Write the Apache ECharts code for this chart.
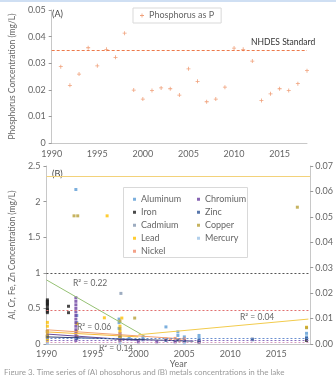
<!DOCTYPE html>
<html>
<head>
<meta charset="utf-8">
<script src="https://cdn.jsdelivr.net/npm/echarts@6/dist/echarts.min.js"></script>
<style>
  html, body { margin: 0; padding: 0; background: #fff; }
  #chart { width: 336px; height: 375px; }
</style>
</head>
<body>
<div id="chart"></div>
<script>
// (A) phosphorus, one value per year
const pYears = [1991, 1992, 1993, 1994, 1995, 1996, 1997, 1998, 1999, 2000, 2001, 2002, 2003, 2004,
  2005, 2006, 2007, 2008, 2009, 2010, 2011, 2012, 2013, 2014, 2015, 2016, 2017, 2018];
const phosphorus = [0.0287, 0.0217, 0.0259, 0.0358, 0.029, 0.0352, 0.0322, 0.0413, 0.0199, 0.0165,
  0.0197, 0.0207, 0.0204, 0.018, 0.0279, 0.0232, 0.0155, 0.0165, 0.021, 0.0357, 0.0352, 0.0308,
  0.016, 0.0185, 0.0204, 0.0197, 0.0223, 0.0272];
const nhdesStandard = 0.035;

// (B) metals, [year, mg/L]; Al Cr Fe Zn on left axis, the rest on right axis
const aluminum = [[1993.2, 2.17], [1990.1, 0.18], [1990.1, 0.12], [1993.3, 0.4], [1993.3, 0.3],
  [1997.9, 0.35], [1997.9, 0.3], [1997.9, 0.22], [1998, 0.15], [1999, 0.08], [2000.5, 0.1],
  [2003, 0.24], [2004.3, 0.17], [2004.3, 0.12], [2005, 0.1], [2006.6, 0.12], [2006.6, 0.08],
  [2018.3, 0.15], [2018.3, 0.1]];
const iron = [[1990.1, 0.62], [1990.1, 0.6], [1990.1, 0.58], [1990.1, 0.56], [1990.1, 0.54],
  [1990.1, 0.5], [1990.1, 0.48], [1990.1, 0.46], [1990.1, 0.44], [1992.4, 0.53], [1992.4, 0.44],
  [1993.3, 0.1], [1998, 0.1], [2006.6, 0.03], [2018.3, 0.05]];
const chromium = [[1993.2, 0.65], [1993.2, 0.6], [1993.2, 0.55], [1993.2, 0.5], [1993.2, 0.45],
  [1993.2, 0.4], [1993.2, 0.35], [1993.2, 0.3], [1993.2, 0.25], [1993.2, 0.2], [1993.2, 0.15],
  [1993.2, 0.1], [1993.2, 0.05], [1998, 0.05], [2000, 0.03], [2002, 0.03], [2004, 0.03],
  [2005, 0.04], [2006.6, 0.03]];
const zinc = [[1990.1, 0.1], [1993.3, 0.08], [1998, 0.12], [2000.5, 0.06], [2003, 0.05],
  [2004.3, 0.06], [2005, 0.04], [2006.6, 0.05], [2012.4, 0.06], [2018.3, 0.08]];
const cadmium = [[1998.1, 0.0199], [1990.1, 0.002], [1998, 0.003], [2012.4, 0.002], [2004, 0.001]];
const lead = [[1996.6, 0.0504], [1996.3, 0.0103], [1998.2, 0.0102], [1990.1, 0.0085],
  [1990.1, 0.007], [1990.1, 0.005], [1990.1, 0.004], [1990.1, 0.003], [1990.1, 0.002],
  [1990.1, 0.001], [1993.3, 0.008], [1993.3, 0.005], [1993.3, 0.003], [1998, 0.007],
  [1998, 0.005], [1998, 0.003], [1998, 0.0015], [2018.3, 0.0066]];
const nickel = [[2003, 0.002], [2003.5, 0.0018], [2004, 0.0022], [2004.5, 0.0015], [2005, 0.002],
  [1990.1, 0.003], [1990.1, 0.005], [1998, 0.004]];
const copper = [[1993.0, 0.0504], [1993.4, 0.0504], [1990.1, 0.003], [1990.1, 0.005],
  [1998, 0.006], [1998, 0.009], [1999.6, 0.0102], [2017.3, 0.0538], [2018.3, 0.0064]];
const mercury = [[1990.1, 0.0003], [1998, 0.0004], [2005, 0.0003]];

// trend lines, left-axis units
const trendGreen = [[1990, 0.9], [2000.8, 0.1]];
const trendYellow = [[2000, 0.13], [2018.5, 0.35]];
const trendOrange = [[1990, 0.2], [2005, 0.07]];
const trendGold = [[1990, 0.17], [2000, 0.1]];
const trendPurple = [[1990, 0.14], [2000, 0.05]];
const trendNavy = [[1990, 0.1], [2006, 0.04]];

// horizontal standards, left-axis units
const standards = [
  { v: 2.35, color: '#f3d27a', type: 'solid' },
  { v: 1, color: '#555', type: [2, 2] },
  { v: 0.48, color: '#e07070', type: [2, 2] },
  { v: 0.087, color: '#6a8fd0', type: [2, 2] },
  { v: 0.05, color: '#8a6fc0', type: [2, 2] },
  { v: 0.02, color: '#d79ac0', type: [2, 2] }
];

const font = 'Lato, "Open Sans", sans-serif';
const grey = '#666';
const axisLine = { show: true, lineStyle: { color: '#c8c8c8' } };
const yearLabel = v => String(v);

function metal(name, data, color, yIdx) {
  return {
    name: name, type: 'scatter', xAxisIndex: 1, yAxisIndex: yIdx,
    data: data, symbol: 'rect', symbolSize: 3,
    itemStyle: { color: color }
  };
}
function trend(data, color) {
  return {
    type: 'line', xAxisIndex: 1, yAxisIndex: 1, data: data,
    showSymbol: false, silent: true,
    lineStyle: { color: color, width: 1 }
  };
}

var chart = echarts.init(document.getElementById('chart'));
var option = {
  animation: false,
  textStyle: { fontFamily: font },
  grid: [
    { left: 42, top: 10, right: 29, height: 133 },
    { left: 43, top: 166, right: 23, height: 178 }
  ],
  xAxis: [
    {
      gridIndex: 0, type: 'value', min: 1990, max: 2018, interval: 5,
      axisLine: axisLine, splitLine: { show: false },
      axisTick: { show: false },
      axisLabel: { color: grey, fontSize: 9, margin: 7, showMaxLabel: false, formatter: yearLabel }
    },
    {
      gridIndex: 1, type: 'value', min: 1990, max: 2018.7, interval: 5,
      axisLine: axisLine, splitLine: { show: false },
      axisTick: { show: false },
      axisLabel: { color: grey, fontSize: 9, margin: 6, showMaxLabel: false, formatter: yearLabel },
      name: 'Year', nameLocation: 'middle', nameGap: 16,
      nameTextStyle: { color: grey, fontSize: 9 }
    }
  ],
  yAxis: [
    {
      gridIndex: 0, type: 'value', min: 0, max: 0.05, interval: 0.01,
      axisLine: axisLine, splitLine: { show: false },
      axisTick: { show: true, length: 3, lineStyle: { color: '#999' } },
      axisLabel: { color: grey, fontSize: 9, margin: 6, formatter: v => +v.toFixed(2) },
      name: 'Phosphorus Concentration (mg/L)', nameLocation: 'middle', nameGap: 28,
      nameTextStyle: { color: grey, fontSize: 8.5 }
    },
    {
      gridIndex: 1, type: 'value', min: 0, max: 2.5, interval: 0.5,
      axisLine: axisLine, splitLine: { show: false },
      axisTick: { show: true, length: 3, lineStyle: { color: '#999' } },
      axisLabel: { color: grey, fontSize: 9, margin: 6 },
      name: 'Al, Cr, Fe, Zn Concentration (mg/L)', nameLocation: 'middle', nameGap: 19,
      nameTextStyle: { color: grey, fontSize: 8.5 }
    },
    {
      gridIndex: 1, type: 'value', position: 'right', min: 0, max: 0.07, interval: 0.01,
      axisLine: axisLine, splitLine: { show: false },
      axisTick: { show: true, length: 3, lineStyle: { color: '#999' } },
      axisLabel: { color: grey, fontSize: 9, margin: 5, formatter: v => v.toFixed(2) }
    }
  ],
  legend: [
    {
      data: ['Phosphorus as P'], left: 133, top: 8, padding: [3, 7],
      borderColor: '#d9d9d9', borderWidth: 1,
      itemWidth: 4, itemHeight: 4, itemGap: 5,
      textStyle: { color: grey, fontSize: 9, lineHeight: 9 }
    },
    {
      data: ['Aluminum', 'Iron', 'Cadmium', 'Lead', 'Nickel'],
      orient: 'vertical', left: 133, top: 194, itemGap: 2.5, padding: 0,
      itemWidth: 3, itemHeight: 3,
      textStyle: { color: grey, fontSize: 9, lineHeight: 10.5 }
    },
    {
      data: ['Chromium', 'Zinc', 'Copper', 'Mercury'],
      orient: 'vertical', left: 197, top: 194, itemGap: 2.5, padding: 0,
      itemWidth: 3, itemHeight: 3,
      textStyle: { color: grey, fontSize: 9, lineHeight: 10.5 }
    }
  ],
  graphic: [
    { type: 'rect', left: 0, top: 0, shape: { width: 336, height: 2 }, style: { fill: '#cfdff3' } },
    { type: 'rect', left: 123, top: 187, shape: { width: 124, height: 70 },
      style: { fill: 'rgba(255,255,255,0)', stroke: '#d9d9d9', lineWidth: 1 } },
    { type: 'text', left: 52, top: 10, style: { text: '(A)', fill: '#444', font: '9px ' + font } },
    { type: 'text', left: 52, top: 170, style: { text: '(B)', fill: '#444', font: '9px ' + font } },
    { type: 'text', left: 251, top: 38, style: { text: 'NHDES Standard', fill: '#333', font: '8.5px ' + font } },
    { type: 'text', left: 73, top: 279, style: { text: 'R² = 0.22', fill: grey, font: '8.5px ' + font } },
    { type: 'text', left: 77, top: 323, style: { text: 'R² = 0.06', fill: grey, font: '8.5px ' + font } },
    { type: 'text', left: 99, top: 344, style: { text: 'R² = 0.14', fill: grey, font: '8.5px ' + font } },
    { type: 'text', left: 240, top: 313, style: { text: 'R² = 0.04', fill: grey, font: '8.5px ' + font } },
    { type: 'text', left: 4, top: 368, style: {
      text: 'Figure 3. Time series of (A) phosphorus and (B) metals concentrations in the lake',
      fill: '#999', font: '8px ' + font } }
  ],
  series: [
    {
      name: 'Phosphorus as P', type: 'scatter', xAxisIndex: 0, yAxisIndex: 0,
      data: pYears.map((y, i) => [y, phosphorus[i]]),
      symbol: 'path://M2 0h1v2h2v1h-2v2h-1v-2h-2v-1h2z', symbolSize: 4,
      itemStyle: { color: '#ec8a5a' },
      markLine: {
        silent: true, symbol: 'none', precision: 4, label: { show: false },
        lineStyle: { color: '#ec7a4a', type: [3, 2], width: 1 },
        data: [{ yAxis: nhdesStandard }]
      }
    },
    trend(trendGreen, '#95c173'),
    trend(trendYellow, '#f2cb4c'),
    trend(trendOrange, '#f0a070'),
    trend(trendGold, '#f5b93a'),
    trend(trendPurple, '#6a4c9c'),
    trend(trendNavy, '#2f3f70'),
    Object.assign(metal('Aluminum', aluminum, '#5b9bd5', 1), {
      markLine: {
        silent: true, symbol: 'none', precision: 4, label: { show: false },
        data: standards.map(s => ({ yAxis: s.v, lineStyle: { color: s.color, type: s.type, width: 1 } }))
      }
    }),
    metal('Iron', iron, '#1c1c1c', 1),
    metal('Cadmium', cadmium, '#8497b0', 2),
    metal('Lead', lead, '#ffc000', 2),
    metal('Nickel', nickel, '#f08a6a', 2),
    metal('Chromium', chromium, '#6a3fa0', 1),
    metal('Zinc', zinc, '#2f5597', 1),
    metal('Copper', copper, '#b8a038', 2),
    metal('Mercury', mercury, '#9dc3e6', 2)
  ]
};
option && chart.setOption(option);
</script>
</body>
</html>
